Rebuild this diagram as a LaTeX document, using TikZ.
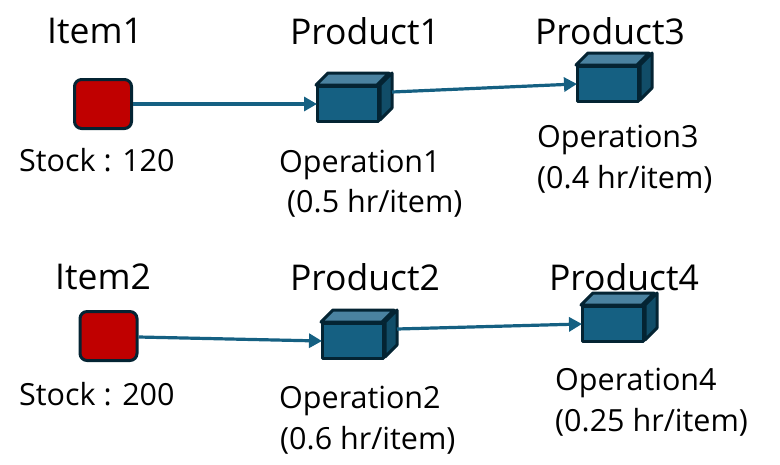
\documentclass[tikz,border=0pt]{standalone}
\usepackage{fontspec}
\setmainfont{Open Sans}
\usetikzlibrary{arrows.meta}
\definecolor{boxline}{HTML}{042433}
\definecolor{boxfront}{HTML}{156082}
\definecolor{boxtop}{HTML}{4A82A0}
\definecolor{boxside}{HTML}{114D68}
\definecolor{stockred}{HTML}{C00000}
\begin{document}
\begin{tikzpicture}[
	x=1pt, y=-1pt,
	stock/.style={rectangle, draw=boxline, fill=stockred, line width=3pt, rounded corners=2.5mm, minimum width=57pt, minimum height=49pt},
	cube/.style={rectangle, draw=boxline, fill=boxfront, line width=3pt, line join=round, minimum width=61pt, minimum height=35pt,
		append after command={
			\pgfextra{
				\draw[boxline, line width=3pt, line join=round, fill=boxtop] (\tikzlastnode.north west) -- ++(12,-12) -- ++(61,0) -- ++(-12,12) -- cycle;
				\draw[boxline, line width=3pt, line join=round, fill=boxside] (\tikzlastnode.north east) -- ++(12,-12) -- ++(0,35) -- ++(-12,12) -- cycle;
			}
		}},
	flow/.style={draw=boxfront, line width=3.2pt, -{Triangle[length=13pt,width=14pt]}, shorten >=-1pt},
	title/.style={inner sep=0pt, font=\fontsize{35.5}{40}\selectfont},
	note/.style={inner sep=0pt, anchor=west, font=\fontsize{30.5}{36}\selectfont}
	]
	\useasboundingbox (0,0) rectangle (780,464);
	% raw materials
	\node[stock] (item1) at (103,104) {};
	\node[stock] (item2) at (108.5,336) {};
	% products
	\node[cube] (prod1) at (348,104) {};
	\node[cube] (prod2) at (353,341) {};
	\node[cube] (prod3) at (608,84) {};
	\node[cube] (prod4) at (613,324) {};
	% links
	\draw[flow] (item1.east) -- (prod1.west);
	\draw[flow] ([yshift=-1pt]item2.east) -- (prod2.west);
	\draw[flow] ([shift={(12,-12)}]prod1.east) -- (prod3.west);
	\draw[flow] ([shift={(12,-12)}]prod2.east) -- (prod4.west);
	% titles
	\node[title] (t1) at (95,31) {Item1};
	\node[title] (t2) at (103,277) {Item2};
	\node[title] (t3) at (365,31) {Product1};
	\node[title] (t4) at (365,277) {Product2};
	\node[title] (t5) at (610,31) {Product3};
	\node[title] (t6) at (624,277) {Product4};
	% notes
	\node[note] (n1) at (19,160) {Stock : 120};
	\node[note] (n2) at (19,394) {Stock : 200};
	\node[note] (n3) at (279,165) {Operation1};
	\node[note] (n4) at (287,203) {(0.5 hr/item)};
	\node[note] (n5) at (279,401) {Operation2};
	\node[note] (n6) at (280,440) {(0.6 hr/item)};
	\node[note] (n7) at (537,140) {Operation3};
	\node[note] (n8) at (537,179) {(0.4 hr/item)};
	\node[note] (n9) at (555,383) {Operation4};
	\node[note] (n10) at (555,422) {(0.25 hr/item)};
\end{tikzpicture}
\end{document}
